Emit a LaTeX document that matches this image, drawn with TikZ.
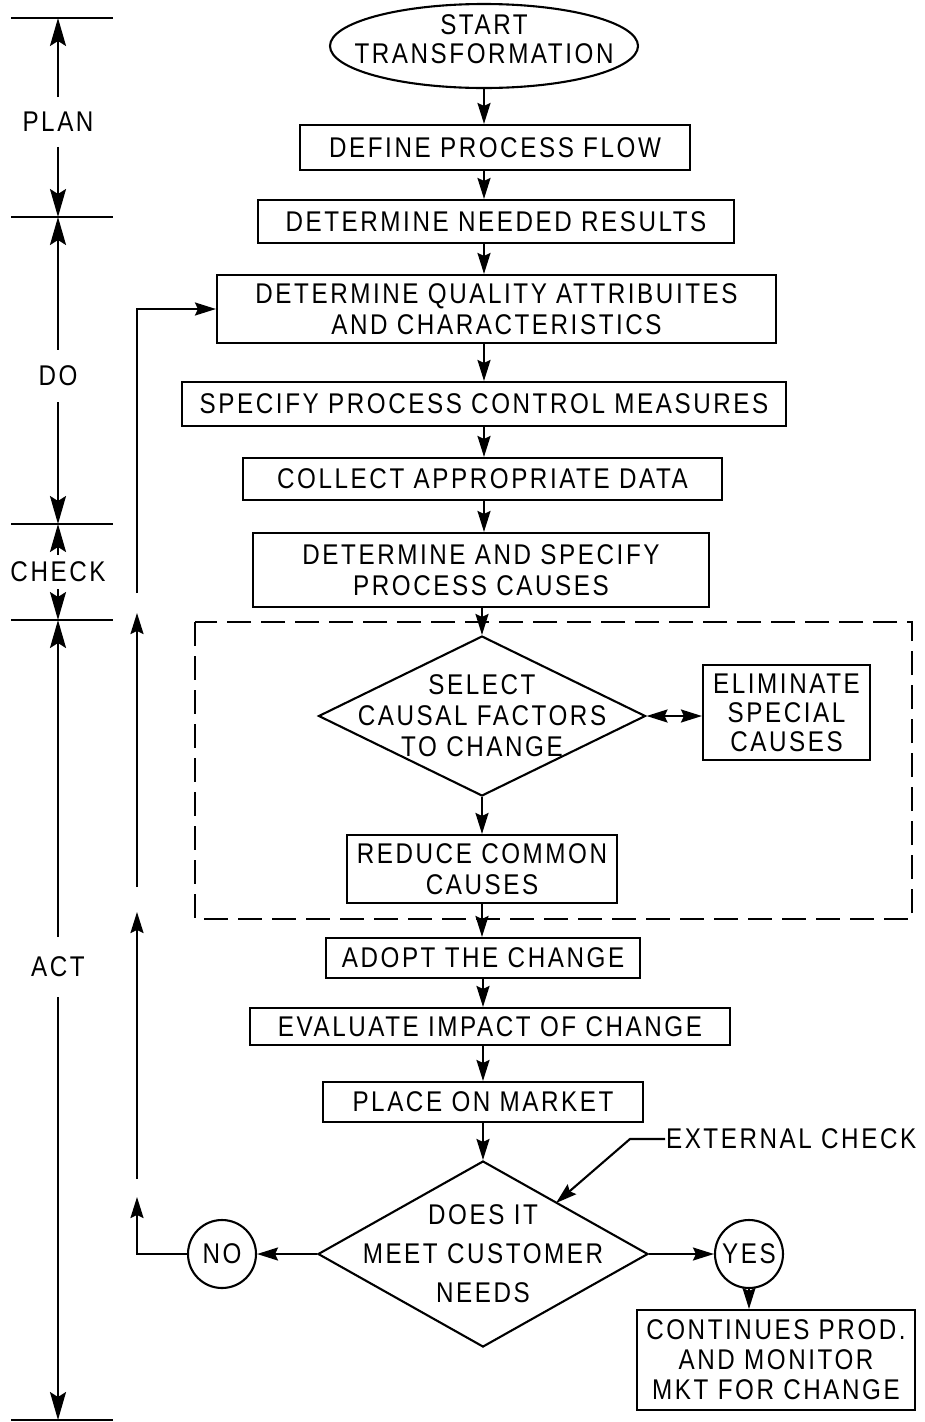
\documentclass[tikz,border=0pt]{standalone}
\usepackage{fontspec}
\setmainfont[FakeStretch=0.85,LetterSpace=9]{Liberation Sans}
\usetikzlibrary{shapes.geometric,arrows.meta,calc}
\begin{document}
\begin{tikzpicture}[x=1pt,y=-1pt,line width=2.1pt,
  every node/.style={inner sep=0pt, align=center, font=\fontsize{28.5}{31}\selectfont},
  box/.style={draw, rectangle},
  arr/.style={-{Stealth[length=21pt,width=13pt,inset=3pt]}},
  dimarr/.style={-{Stealth[length=28pt,width=16pt,inset=5pt]}},
  dbl/.style={{Stealth[length=21pt,width=13pt,inset=3pt]}-{Stealth[length=21pt,width=13pt,inset=3pt]}},
]
\useasboundingbox (0,0) rectangle (924,1422);

% ---------- left PDCA scale ----------
\coordinate (t0) at (58,18);
\coordinate (t1) at (58,217);
\coordinate (t2) at (58,524);
\coordinate (t3) at (58,620);
\coordinate (t4) at (58,1420);
\foreach \c in {t0,t1,t2,t3,t4}{\draw ($(\c)+(-47,0)$) -- ($(\c)+(55,0)$);}
\node[inner ysep=14pt] (plan) at (58,122) {PLAN};
\node[inner ysep=15pt] (do) at (58,376) {DO};
\node[inner ysep=6pt] (check) at (58,572) {CHECK};
\node[inner ysep=19pt] (act) at (58,967) {ACT};
\draw[dimarr] (plan.north) -- (t0);
\draw[dimarr] (plan.south) -- (t1);
\draw[dimarr] (do.north) -- (t1);
\draw[dimarr] (do.south) -- (t2);
\draw[dimarr] (check.north) -- (t2);
\draw[dimarr] (check.south) -- (t3);
\draw[dimarr] (act.north) -- (t3);
\draw[dimarr] (act.south) -- (t4);

% ---------- main flow ----------
\node[draw, ellipse, minimum width=308pt, minimum height=84pt] (start) at (484,46) {};
\node[font=\fontsize{28.5}{29}\selectfont] (starttxt) at ($(start)+(0,-7)$) {START\\TRANSFORMATION};
\node[box, minimum width=390pt, minimum height=45pt] (b1) at (495,147.5) {DEFINE PROCESS FLOW};
\node[box, minimum width=476pt, minimum height=43pt] (b2) at (496,221.5) {DETERMINE NEEDED RESULTS};
\node[box, minimum width=559pt, minimum height=68pt] (b3) at (496.5,309) {DETERMINE QUALITY ATTRIBUITES\\AND CHARACTERISTICS};
\node[box, minimum width=604pt, minimum height=44pt] (b4) at (484,404) {SPECIFY PROCESS CONTROL MEASURES};
\node[box, minimum width=479pt, minimum height=42pt] (b5) at (482.5,479) {COLLECT APPROPRIATE DATA};
\node[box, minimum width=456pt, minimum height=74pt] (b6) at (481,570) {DETERMINE AND SPECIFY\\PROCESS CAUSES};

\draw[dash pattern=on 24pt off 10pt] (195,622) rectangle (912,919);

\node[draw, diamond, minimum width=327pt, minimum height=160pt] (d1) at (482,716) {};
\node (d1txt) at (d1) {SELECT\\CAUSAL FACTORS\\TO CHANGE};
\node[box, minimum width=167pt, minimum height=95pt, font=\fontsize{28.5}{29}\selectfont] (elim) at (786.5,712.5) {ELIMINATE\\SPECIAL\\CAUSES};
\node[box, minimum width=270pt, minimum height=68pt] (red) at (482,869) {REDUCE COMMON\\CAUSES};

\node[box, minimum width=314pt, minimum height=40pt] (adopt) at (483,958) {ADOPT THE CHANGE};
\node[box, minimum width=480pt, minimum height=37pt] (eval) at (490,1026.5) {EVALUATE IMPACT OF CHANGE};
\node[box, minimum width=320pt, minimum height=40pt] (place) at (483,1102) {PLACE ON MARKET};

\node[draw, diamond, minimum width=330pt, minimum height=186pt] (d2) at (483,1254) {};
\node[font=\fontsize{28.5}{39}\selectfont] (d2txt) at (d2) {DOES IT\\MEET CUSTOMER\\NEEDS};
\node[draw, circle, minimum size=68pt] (no) at (222,1254) {NO};
\node[draw, circle, minimum size=68pt] (yes) at (749,1254) {YES};
\node[box, minimum width=278pt, minimum height=100pt, font=\fontsize{28.5}{30}\selectfont] (cont) at (776,1360) {CONTINUES PROD.\\AND MONITOR\\MKT FOR CHANGE};

\node[anchor=west] (ext) at (665,1139) {EXTERNAL CHECK};
\coordinate (extstub) at (630,1139);
\coordinate (exttip) at (556,1203);

% ---------- connectors ----------
\draw[arr] (start.south) -- (start.south |- b1.north);
\draw[arr] (start.south |- b1.south) -- (start.south |- b2.north);
\draw[arr] (start.south |- b2.south) -- (start.south |- b3.north);
\draw[arr] (start.south |- b3.south) -- (start.south |- b4.north);
\draw[arr] (start.south |- b4.south) -- (start.south |- b5.north);
\draw[arr] (start.south |- b5.south) -- (start.south |- b6.north);
\draw[arr] (d1.north |- b6.south) -- (d1.north);
\draw[dbl] (d1.east) -- (d1.east -| elim.west);
\draw[arr] (d1.south) -- (d1.south |- red.north);
\draw[arr] (red.south) -- (red.south |- adopt.north);
\draw[arr] (adopt.south) -- (adopt.south |- eval.north);
\draw[arr] (adopt.south |- eval.south) -- (place.north);
\draw[arr] (place.south) -- (d2.north);
\draw[arr] (d2.west) -- (no.east);
\draw[arr] (d2.east) -- (yes.west);
\draw[arr] (yes.south) -- (yes.south |- cont.north);
\draw[arr] (ext.west) -- (extstub) -- (exttip);

% feedback loop
\coordinate (f1) at (137,1197);
\coordinate (f2a) at (137,1179);
\coordinate (f2b) at (137,912);
\coordinate (f3a) at (137,887);
\coordinate (f3b) at (137,613);
\coordinate (f4a) at (137,593);
\draw[arr] (no.west) -| (f1);
\draw[arr] (f2a) -- (f2b);
\draw[arr] (f3a) -- (f3b);
\draw[arr] (f4a) |- (b3.west);
\end{tikzpicture}
\end{document}
